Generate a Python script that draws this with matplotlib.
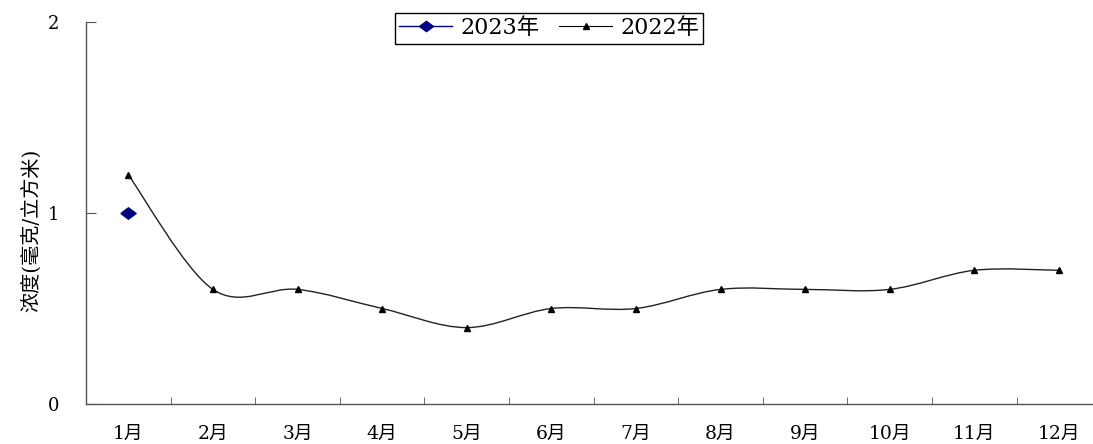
import matplotlib
matplotlib.use("Agg")
import matplotlib.pyplot as plt
from matplotlib.path import Path
from matplotlib.patches import PathPatch
import numpy as np

months = ["1月", "2月", "3月", "4月", "5月", "6月", "7月", "8月", "9月", "10月", "11月", "12月"]
vals_2022 = [1.2, 0.6, 0.6, 0.5, 0.4, 0.5, 0.5, 0.6, 0.6, 0.6, 0.7, 0.7]
vals_2023 = [1.0]
y_ticks = [0, 1, 2]
y_label = "浓度(毫克/立方米)"

FONT = ["DejaVu Serif", "Noto Sans CJK SC"]
plt.rcParams["font.family"] = FONT

fig = plt.figure(figsize=(10.93, 4.44), dpi=100)
W, H = 1093, 444
x0, x1, ytop, ybot = 86, 1093, 22, 404
ax = fig.add_axes([x0 / W, (H - ybot) / H, (x1 - x0) / W, (ybot - ytop) / H])

cat_w = 84.6
ax.set_xlim(0.5, 0.5 + (x1 - x0) / cat_w)
ax.set_ylim(0, 2)

x22 = np.arange(1, len(vals_2022) + 1)
y22 = np.array(vals_2022, dtype=float)

# smoothed line (Catmull-Rom style Bezier, like Excel's smoothed line)
verts = [(x22[0], y22[0])]
codes = [Path.MOVETO]
n = len(x22)
for i in range(n - 1):
    p0 = np.array([x22[max(i - 1, 0)], y22[max(i - 1, 0)]])
    p1 = np.array([x22[i], y22[i]])
    p2 = np.array([x22[i + 1], y22[i + 1]])
    p3 = np.array([x22[min(i + 2, n - 1)], y22[min(i + 2, n - 1)]])
    c1 = p1 + (p2 - p0) / 6.0
    c2 = p2 - (p3 - p1) / 6.0
    verts += [tuple(c1), tuple(c2), tuple(p2)]
    codes += [Path.CURVE4] * 3
ax.add_patch(PathPatch(Path(verts, codes), facecolor="none", edgecolor="#222222", lw=1.0, zorder=2))
ax.plot(x22, y22, linestyle="none", marker="^", color="black", markersize=4, zorder=3)

diamond = [(-1, 0), (0, 0.75), (1, 0), (0, -0.75), (-1, 0)]
x23 = np.arange(1, len(vals_2023) + 1)
ax.plot(x23, vals_2023, linestyle="none", marker=diamond, color="#000080", markersize=11, zorder=4)

# legend handles
h23, = ax.plot([], [], color="#000080", lw=1.0, marker=diamond, markersize=10)
h22, = ax.plot([], [], color="black", lw=0.8, marker="^", markersize=4)
leg = ax.legend([h23, h22], ["2023年", "2022年"], loc="upper center",
                bbox_to_anchor=((549 - x0) / (x1 - x0), 1.024), ncol=2, frameon=True,
                fancybox=False, edgecolor="black", framealpha=1, fontsize=16,
                handlelength=2.4, handletextpad=0.35, columnspacing=0.9,
                borderpad=0.2, borderaxespad=0)
leg.get_frame().set_linewidth(1.0)

for s in ["top", "right"]:
    ax.spines[s].set_visible(False)
for s in ["left", "bottom"]:
    ax.spines[s].set_color("#555555")
    ax.spines[s].set_linewidth(1.0)

ax.set_yticks(y_ticks)
ax.set_yticklabels([str(v) for v in y_ticks], fontsize=13)
ax.tick_params(axis="y", direction="in", length=7, pad=19, color="#555555")

ax.set_xticks(x22)
ax.set_xticklabels(months, fontsize=13.5)
ax.set_xticks(np.arange(1.5, 12.5, 1.0), minor=True)
ax.tick_params(axis="x", which="major", length=0, pad=15)
ax.tick_params(axis="x", which="minor", direction="in", length=5, color="#555555")

fig.text(31 / W, 1 - 230 / H, y_label, rotation=90, ha="center", va="center",
         fontsize=14.5, family=FONT)

fig.savefig("out.png", dpi=100)
